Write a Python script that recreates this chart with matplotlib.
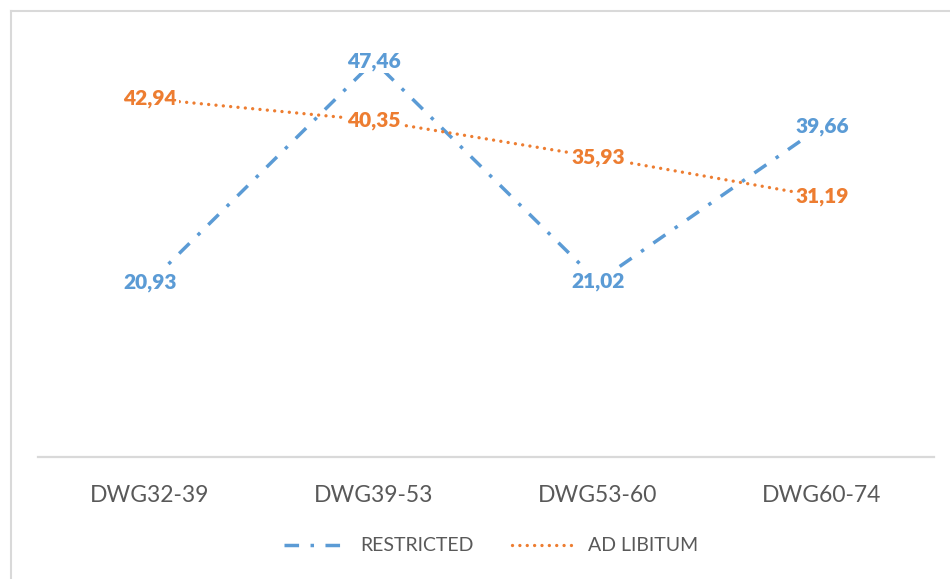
import matplotlib.pyplot as plt
from matplotlib.lines import Line2D

# data
categories = ["DWG32-39", "DWG39-53", "DWG53-60", "DWG60-74"]
restricted = [20.93, 47.46, 21.02, 39.66]
ad_libitum = [42.94, 40.35, 35.93, 31.19]
series_names = ["RESTRICTED", "AD LIBITUM"]

BLUE = "#5b9bd5"
ORANGE = "#ed7d31"
GREY = "#595959"
LIGHT = "#d9d9d9"

plt.rcParams['font.family'] = ['Lato', 'DejaVu Sans']

fig = plt.figure(figsize=(9.5, 5.79), dpi=100)
ax = fig.add_axes([0.04, 0.211, 0.943, 0.72])

x = list(range(len(categories)))
ax.plot(x, restricted, color=BLUE, lw=2.5, dashes=(4.2, 3.3, 1, 3.3),
        dash_capstyle='butt', label=series_names[0])
ax.plot(x, ad_libitum, color=ORANGE, lw=2.4, linestyle=(0, (0.01, 2.2)),
        dash_capstyle='round', label=series_names[1])

# value labels sit on the points, with white fill hiding the line
for vals, col in [(restricted, BLUE), (ad_libitum, ORANGE)]:
    for xi, v in zip(x, vals):
        ax.text(xi, v, f"{v:.2f}".replace(".", ","), color=col, fontsize=15,
                fontweight='heavy', ha='center', va='center',
                bbox=dict(facecolor='white', edgecolor='none', pad=1.5))

ax.set_xlim(-0.5, 3.5)
ax.set_ylim(0, 50)
ax.set_xticks(x)
ax.set_xticklabels(categories, fontsize=16.5, color=GREY)
ax.tick_params(axis='x', length=0, pad=20)
ax.set_yticks([])
for s in ['top', 'right', 'left']:
    ax.spines[s].set_visible(False)
ax.spines['bottom'].set_color(LIGHT)
ax.spines['bottom'].set_linewidth(1.6)

leg = fig.legend(loc='center', bbox_to_anchor=(0.517, 0.057), ncol=2,
                 frameon=False, fontsize=14, handlelength=3.4,
                 columnspacing=2.0, handletextpad=0.5)
for t in leg.get_texts():
    t.set_color(GREY)

# chart-area border (left and top edges show in the reference)
fig.add_artist(Line2D([10.5 / 950, 10.5 / 950], [0, 1 - 11 / 579],
                      transform=fig.transFigure, color=LIGHT, lw=1.5))
fig.add_artist(Line2D([10.5 / 950, 1], [1 - 11 / 579, 1 - 11 / 579],
                      transform=fig.transFigure, color=LIGHT, lw=1.5))

fig.savefig("out.png", dpi=100)
